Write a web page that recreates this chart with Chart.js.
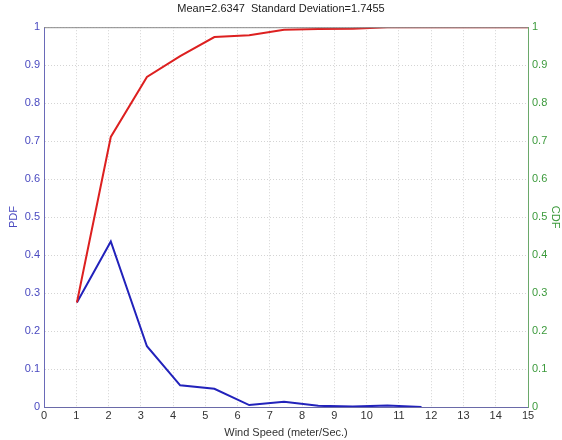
<!DOCTYPE html>
<html lang="en">
<head>
<meta charset="UTF-8">
<title>Wind Speed PDF / CDF</title>
<script src="https://cdn.jsdelivr.net/npm/chart.js"></script>
<style>
    body { margin: 0; background: #fff; }
    .wrap { width: 562px; height: 440px; position: relative; }
</style>
</head>
<body>
<div class="wrap"><canvas id="windChart"></canvas></div>
<script>
    // bin centres
    const speeds = [1.02, 2.07, 3.19, 4.22, 5.28, 6.36, 7.44, 8.5, 9.57, 10.64, 11.7];
    const pdfValues = [0.275, 0.436, 0.16, 0.057, 0.048, 0.005, 0.014, 0.003, 0.001, 0.004, 0];
    const cdfSpeeds = [1.02, 2.07, 3.19, 4.22, 5.28, 6.36, 7.44, 8.5, 9.57, 10.64, 11.7, 15];
    const cdfValues = [0.275, 0.711, 0.869, 0.924, 0.974, 0.979, 0.993, 0.995, 0.996, 1.0, 1.0, 1.0];
    const xTicks = [0, 1, 2, 3, 4, 5, 6, 7, 8, 9, 10, 11, 12, 13, 14, 15];

    const font = { family: 'Liberation Sans, Arial, sans-serif', size: 11 };
    const fmt = v => String(+v.toFixed(1));   // 0, 0.1 ... 1 like matlab

    // top edge of the axes box (matlab style)
    const boxTop = {
        id: 'boxTop',
        afterDraw(chart) {
            const a = chart.chartArea, c = chart.ctx;
            c.save();
            c.strokeStyle = '#8a8a8a';
            c.lineWidth = 1;
            c.beginPath();
            c.moveTo(a.left, a.top + 0.5);
            c.lineTo(a.right, a.top + 0.5);
            c.stroke();
            c.restore();
        }
    };

    new Chart(document.getElementById('windChart'), {
        type: 'line',
        data: {
            datasets: [{
                label: 'CDF',
                data: cdfSpeeds.map((s, i) => ({ x: s, y: cdfValues[i] })),
                borderColor: '#dd2020',
                borderWidth: 2,
                pointRadius: 0,
                yAxisID: 'y2'
            }, {
                label: 'PDF',
                data: speeds.map((s, i) => ({ x: s, y: pdfValues[i] })),
                borderColor: '#2222bb',
                borderWidth: 2,
                pointRadius: 0,
                yAxisID: 'y'
            }]
        },
        options: {
            responsive: true,
            maintainAspectRatio: false,
            animation: false,
            layout: { padding: { top: 2 } },
            plugins: {
                legend: { display: false },
                tooltip: { enabled: false },
                title: {
                    display: true,
                    text: 'Mean=2.6347  Standard Deviation=1.7455',
                    color: '#222',
                    font: { ...font, weight: 'normal' },
                    padding: { top: 0, bottom: 12 }
                }
            },
            scales: {
                x: {
                    type: 'linear',
                    min: 0, max: 15,
                    afterBuildTicks(scale) { scale.ticks = xTicks.map(v => ({ value: v })); },
                    afterFit(scale) { scale.height = 33; },
                    ticks: { color: '#333', font, padding: 2, maxRotation: 0 },
                    grid: { color: '#d4d4d4', drawTicks: false },
                    border: { color: '#6a6aa8', dash: [1, 2] },
                    title: { display: true, text: 'Wind Speed (meter/Sec.)', color: '#333', font, padding: 0 }
                },
                y: {
                    position: 'left',
                    min: 0, max: 1,
                    ticks: { stepSize: 0.1, color: '#4a4ac0', font, padding: 4, callback: fmt },
                    afterFit(scale) { scale.width = 44; },
                    grid: { color: '#d4d4d4', drawTicks: false },
                    border: { color: '#6a6ab8', dash: [1, 2] },
                    title: { display: true, text: 'PDF', color: '#4a4ac0', font, padding: { top: 7, bottom: 0 } }
                },
                y2: {
                    position: 'right',
                    min: 0, max: 1,
                    ticks: { stepSize: 0.1, color: '#3c9a3c', font, padding: 4, callback: fmt },
                    afterFit(scale) { scale.width = 34; },
                    grid: { display: false, drawTicks: false },
                    border: { color: '#6aa86a' },
                    title: { display: true, text: 'CDF', color: '#3c9a3c', font, padding: 0 }
                }
            }
        },
        plugins: [boxTop]
    });
</script>
</body>
</html>
